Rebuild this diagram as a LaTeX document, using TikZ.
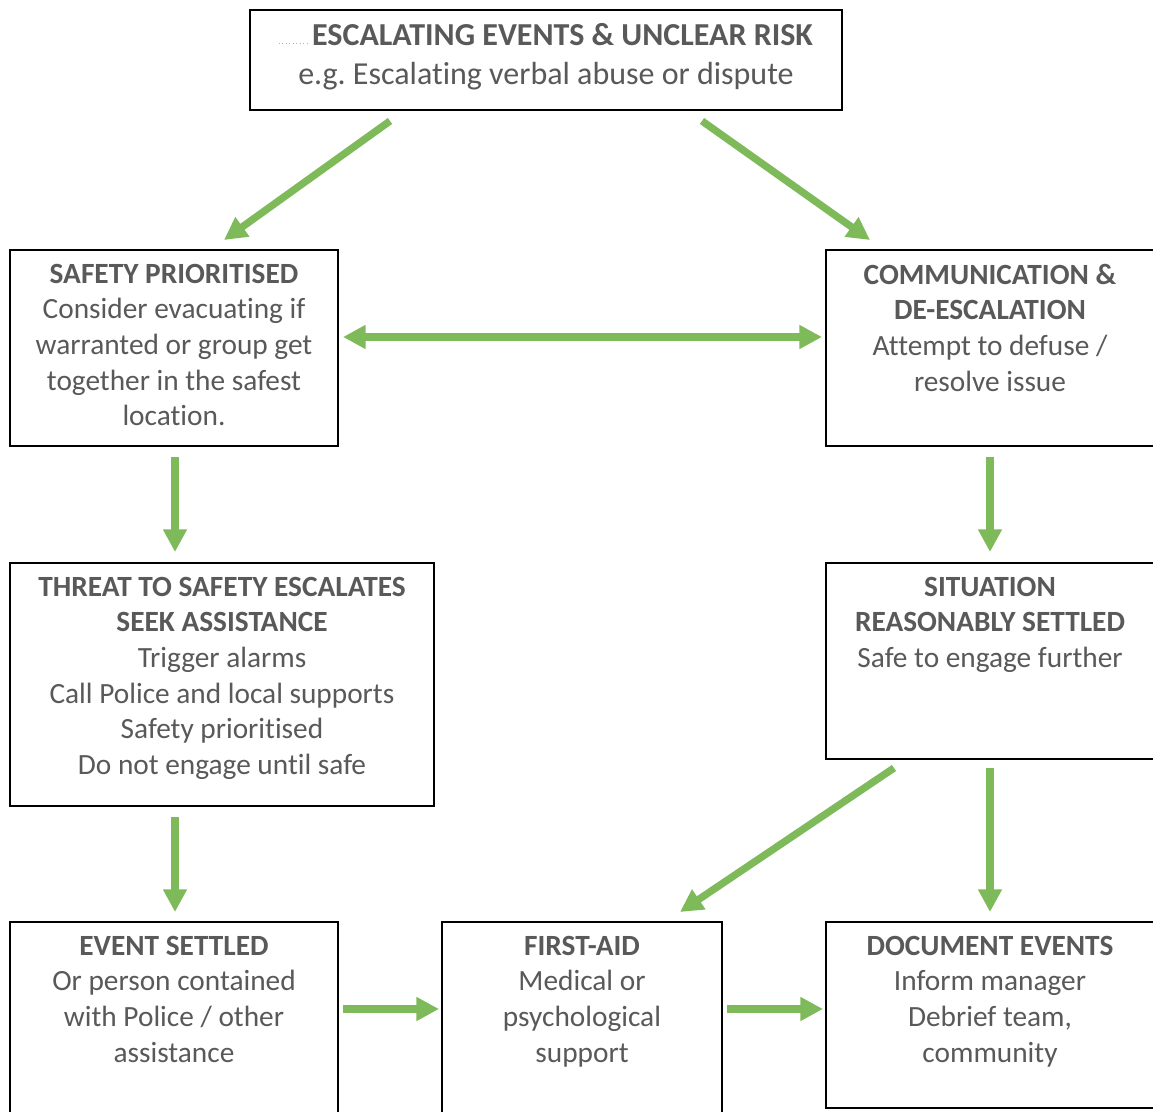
\documentclass[tikz,border=0pt]{standalone}
\usepackage{fontspec}
\setmainfont{Carlito}[Ligatures=NoCommon]
\usetikzlibrary{arrows.meta}
\definecolor{arrowgreen}{RGB}{127,186,90}
\definecolor{txtgray}{RGB}{89,89,89}
\frenchspacing
\begin{document}
\begin{tikzpicture}[x=0.75pt,y=-0.75pt,
  box/.style={draw=black, line width=1.1pt, inner sep=0pt, outer sep=0pt, anchor=north west},
  lbl/.style={text=txtgray, align=center, inner sep=0pt, anchor=north, font=\fontsize{22}{26.8}\selectfont},
  biglbl/.style={lbl, font=\fontsize{24}{30}\selectfont},
  flow/.style={draw=arrowgreen, line width=5.5pt, -{Triangle[width=17pt,length=17pt]}},
  flowboth/.style={draw=arrowgreen, line width=5.5pt, {Triangle[width=17pt,length=17pt]}-{Triangle[width=17pt,length=17pt]}},
  ]
\useasboundingbox (0,0) rectangle (1153,1112);
\fill[white] (0,0) rectangle (1153,1112);

% boxes
\node[box, minimum width=444pt, minimum height=75pt] (top) at (250,10) {};
\node[box, minimum width=246pt, minimum height=147pt] (safety) at (10,250) {};
\node[box, minimum width=255pt, minimum height=147pt] (comm) at (826,250) {};
\node[box, minimum width=318pt, minimum height=182.25pt] (threat) at (10,563) {};
\node[box, minimum width=255pt, minimum height=147pt] (situation) at (826,563) {};
\node[box, minimum width=246pt, minimum height=150pt] (settled) at (10,922) {};
\node[box, minimum width=210pt, minimum height=150pt] (firstaid) at (442,922) {};
\node[box, minimum width=255pt, minimum height=139.5pt] (document) at (826,922) {};

% texts
\draw[gray!60, dotted, line width=0.6pt] (279,43) -- (308,43);
\node[biglbl] (toptitle) at (562.5,23.5) {\textbf{ESCALATING EVENTS \& UNCLEAR RISK}};
\node[biglbl] (topsub) at (546,62) {e.g. Escalating verbal abuse or dispute};
\node[lbl] (safetytxt) at (174,263.5) {\textbf{SAFETY PRIORITISED}\\Consider evacuating if\\warranted or group get\\together in the safest\\location.};
\node[lbl] (commtxt) at (990,263.5) {\textbf{COMMUNICATION \&}\\\textbf{DE-ESCALATION}\\Attempt to defuse /\\resolve issue};
\node[lbl] (threattxt) at (222,576.5) {\textbf{THREAT TO SAFETY ESCALATES}\\\textbf{SEEK ASSISTANCE}\\Trigger alarms\\Call Police and local supports\\Safety prioritised\\Do not engage until safe};
\node[lbl] (situationtxt) at (990,576.5) {\textbf{SITUATION}\\\textbf{REASONABLY SETTLED}\\Safe to engage further};
\node[lbl] (settledtxt) at (174,935.5) {\textbf{EVENT SETTLED}\\Or person contained\\with Police / other\\assistance};
\node[lbl] (firstaidtxt) at (582,935.5) {\textbf{FIRST-AID}\\Medical or\\psychological\\support};
\node[lbl] (documenttxt) at (990,935.5) {\textbf{DOCUMENT EVENTS}\\Inform manager\\Debrief team,\\community};

% connector end points
\coordinate (a1s) at (390,121);
\coordinate (a1e) at (224,240);
\coordinate (a2s) at (702,121);
\coordinate (a2e) at (870,240);
\coordinate (a3s) at (343,337);
\coordinate (a3e) at (822,337);
\coordinate (a4s) at (175,457);
\coordinate (a4e) at (175,552);
\coordinate (a5s) at (990,457);
\coordinate (a5e) at (990,552);
\coordinate (a6s) at (175,817);
\coordinate (a6e) at (175,912);
\coordinate (a7s) at (894,768);
\coordinate (a7e) at (680,912);
\coordinate (a8s) at (990,768);
\coordinate (a8e) at (990,912);
\coordinate (a9s) at (343,1009);
\coordinate (a9e) at (439,1009);
\coordinate (a10s) at (727,1009);
\coordinate (a10e) at (823,1009);

\draw[flow] (a1s) -- (a1e);
\draw[flow] (a2s) -- (a2e);
\draw[flowboth] (a3s) -- (a3e);
\draw[flow] (a4s) -- (a4e);
\draw[flow] (a5s) -- (a5e);
\draw[flow] (a6s) -- (a6e);
\draw[flow] (a7s) -- (a7e);
\draw[flow] (a8s) -- (a8e);
\draw[flow] (a9s) -- (a9e);
\draw[flow] (a10s) -- (a10e);
\end{tikzpicture}
\end{document}
